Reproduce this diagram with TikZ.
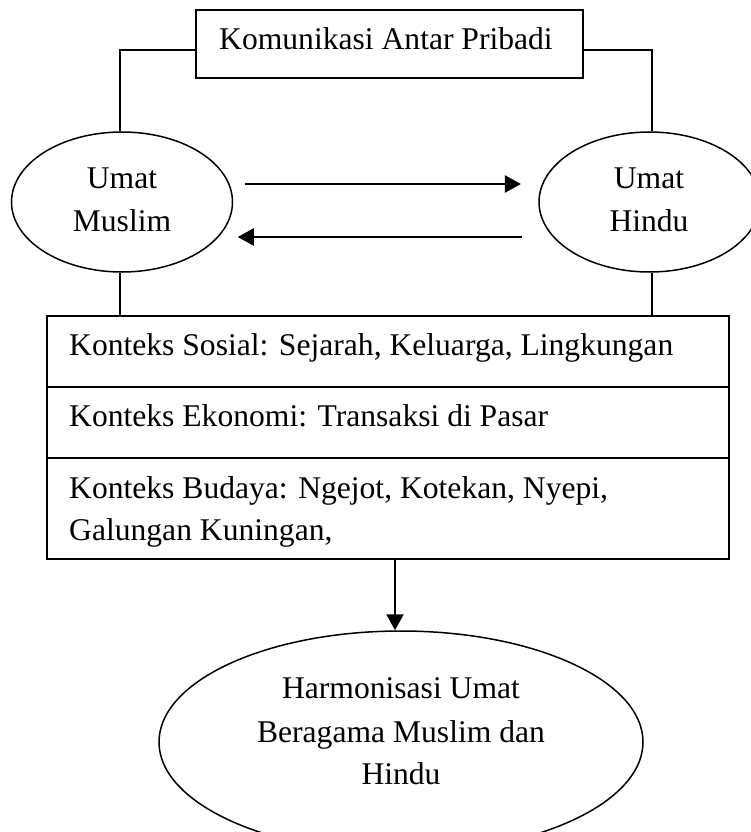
\documentclass[tikz,border=0pt]{standalone}
\usepackage{fontspec}
\setmainfont{Liberation Serif}
\usetikzlibrary{shapes.geometric,arrows.meta}
\tikzset{
  boxnode/.style={draw, line width=1.8pt, rectangle, inner sep=0pt, minimum width=682pt},
  ell/.style={draw, line width=1.5pt, ellipse, inner sep=0pt},
  txt/.style={inner sep=0pt, font=\fontsize{31.6}{43}\selectfont},
  conn/.style={line width=1.5pt},
  arr/.style={line width=2.2pt, -{Triangle[length=16pt,width=17pt]}}
}
\begin{document}
\begin{tikzpicture}[x=1pt,y=-1pt]
\useasboundingbox (0,0) rectangle (750,832);
% top box
\node[draw, line width=1.8pt, rectangle, inner sep=0pt, minimum width=387pt, minimum height=68pt] (top) at (389.5,44) {};
\node[txt, anchor=base] (toptxt) at (386,50) {Komunikasi Antar Pribadi};
% ellipses
\node[ell, minimum width=221pt, minimum height=140pt] (lm) at (122,202) {};
\node[txt, anchor=base, align=center] (lmtxt) at (122,231) {Umat\\Muslim};
\node[ell, minimum width=221pt, minimum height=140pt] (rm) at (649.5,202) {};
\node[txt, anchor=base, align=center] (rmtxt) at (649,231) {Umat\\Hindu};
% context boxes
\node[boxnode, minimum height=71pt] (s1) at (388,351.5) {};
\node[boxnode, minimum height=71pt] (s2) at (388,422.5) {};
\node[boxnode, minimum height=101pt] (s3) at (388,508.5) {};
\node[txt, anchor=base west] (s1txt) at (69,355) {Konteks Sosial: Sejarah, Keluarga, Lingkungan};
\node[txt, anchor=base west] (s2txt) at (69,426) {Konteks Ekonomi: Transaksi di Pasar};
\node[txt, anchor=base west] (s3txt) at (69,498) {Konteks Budaya: Ngejot, Kotekan, Nyepi,};
\node[txt, anchor=base west] (s3txtb) at (69,540) {Galungan Kuningan,};
% bottom ellipse
\node[ell, minimum width=484pt, minimum height=222pt] (bm) at (401,742) {};
\node[txt, anchor=base] (bm1) at (401,698) {Harmonisasi Umat};
\node[txt, anchor=base] (bm2) at (401,742) {Beragama Muslim dan};
\node[txt, anchor=base] (bm3) at (401,784) {Hindu};
% connectors
\coordinate (tl) at (0,50);
\draw[conn] (top.west |- tl) -| ([xshift=-2pt]lm.north);
\draw[conn] (top.east |- tl) -| ([xshift=2.5pt]rm.north);
\draw[conn] ([xshift=-2pt]lm.south) -- ([xshift=-2pt]lm.south |- s1.north);
\draw[conn] ([xshift=2.5pt]rm.south) -- ([xshift=2.5pt]rm.south |- s1.north);
\draw[arr] ([yshift=18pt,xshift=11.5pt]lm.east) -- ([yshift=18pt,xshift=-17.3pt]rm.west);
\draw[arr] ([yshift=-35pt,xshift=-16pt]rm.west) -- ([yshift=-35pt,xshift=4.5pt]lm.east);
\draw[arr] ([xshift=7pt]s3.south) -- ([xshift=7pt]s3.south |- bm.north);
\end{tikzpicture}
\end{document}
